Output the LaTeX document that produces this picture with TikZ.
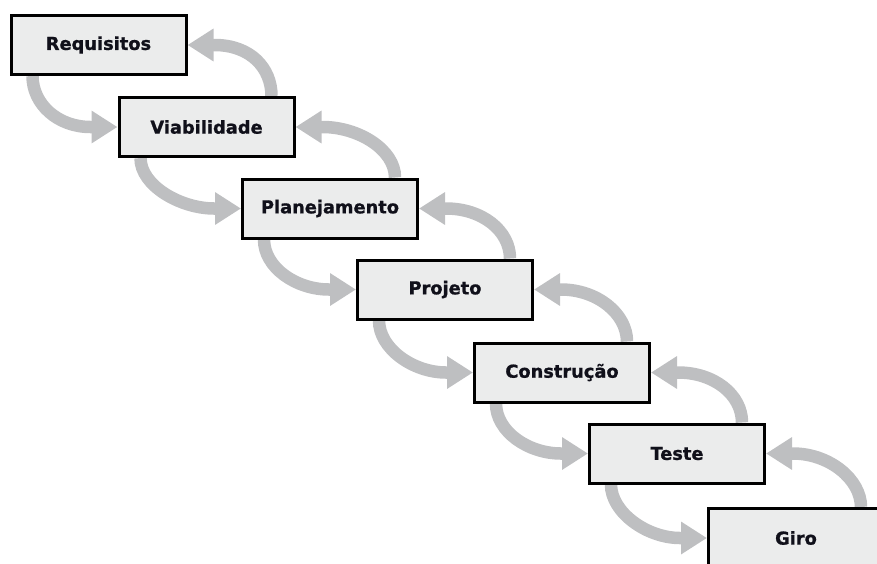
\documentclass[tikz,border=0pt]{standalone}
\usepackage{fontspec}
\setmainfont{DejaVu Sans}
\newfontfamily\phasefont{DejaVu Sans}[BoldFeatures={FakeBold=1}]
\usetikzlibrary{arrows.meta,calc,backgrounds}
\definecolor{boxfill}{HTML}{EBECEC}
\definecolor{arrowgray}{HTML}{BEBFC1}
\definecolor{labeltext}{HTML}{10101A}
\begin{document}
\begin{tikzpicture}[x=1pt,y=-1pt,
  phase/.style={draw=black,line width=3pt,fill=boxfill,
    minimum width=175pt,minimum height=59pt,inner sep=0pt,
    font=\phasefont\fontsize{17.8}{20}\selectfont\bfseries,text=labeltext},
  flow/.style={draw=arrowgray,line width=12.5pt,
    -{Triangle[width=31pt,length=26pt]}}]
\useasboundingbox (0,0) rectangle (877,563);
\clip (0,0) rectangle (877,563);

% the seven phases, stepping down to the right
\node[phase] (req) at (98.5,45)  {Requisitos};
\node[phase] (via) at (206.5,127) {Viabilidade};
\node[phase] (pla) at (330,208.5) {Planejamento};
\node[phase] (pro) at (445,289.5) {Projeto};
\node[phase] (con) at (562,372.5) {Construção};
\node[phase] (tes) at (677,453.5) {Teste};
\node[phase] (gir) at (796,538)   {Giro};

% forward and feedback arrows between consecutive phases
\begin{scope}[on background layer]
\foreach \a/\b in {req/via,via/pla,pla/pro,pro/con,con/tes,tes/gir}{
  \draw[flow] ($(\a.south west)+(23,0)$) .. controls +(0,28) and +(-33,0)
    .. ($(\b.west)+(-27,0)$) -- (\b.west);
  \draw[flow] ($(\b.north east)+(-24,0)$) .. controls +(0,-28) and +(36,0)
    .. ($(\a.east)+(27,0)$) -- (\a.east);
}
\end{scope}
\end{tikzpicture}
\end{document}
